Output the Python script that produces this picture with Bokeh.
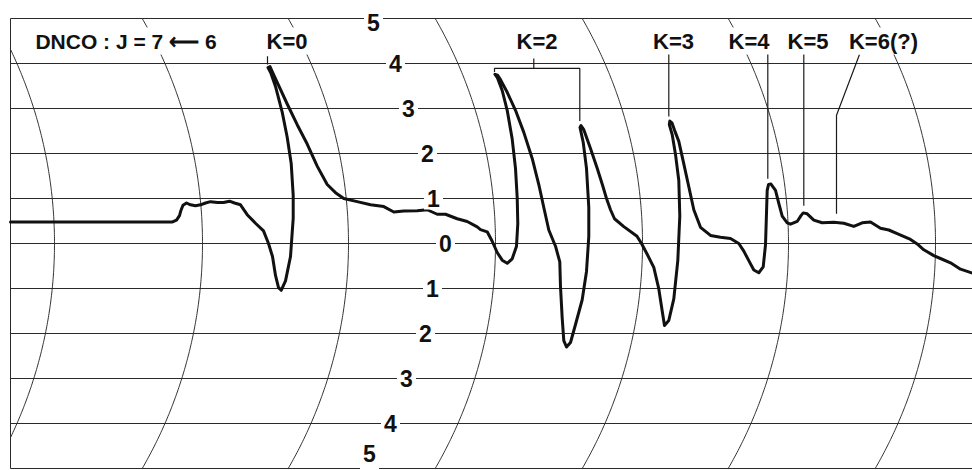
import numpy as np
from bokeh.plotting import figure
from bokeh.models import Range1d
from bokeh.embed import file_html
from bokeh.resources import INLINE
from bokeh.core.properties import value

# ---- data (chart divisions) ----
grid_levels = [5, 4, 3, 2, 1, 0, -1, -2, -3, -4, -5]
tick_labels = ["5", "4", "3", "2", "1", "0", "1", "2", "3", "4", "5"]
tick_label_x = [373, 395, 408, 427, 433, 445, 432, 425, 406, 390, 369]
tick_label_dy = [3.5, 0, 0, 0, 0, 0, 0, 0, 0, 0, -15]   # screen-pixel nudges (style)

arc_x0 = [54, 202, 348, 495, 642, 788, 935]   # recorder time arcs (x at zero line)
ARC_R = 450.0
ARC_K = 45.0

trace_x = [10, 172, 176, 179, 180.5, 182.5, 186, 190, 195, 200, 205, 210, 217, 223, 229, 234,
           240, 246.7, 255, 263, 268, 272, 275, 278, 280.7, 285, 290, 292.7, 292.7, 290.7,
           286.7, 281.7, 275, 270.5, 267.5, 269.5, 273, 278, 286.7, 296.7, 306.7, 316.7,
           326.7, 335, 343.3, 356.7, 370, 383.3, 393.3, 403.3, 416.7, 426.7, 436.7, 445,
           456.7, 466.7, 476.7, 480, 486.7, 491.7, 496.7, 501.7, 506.7, 511.7, 516, 517.3,
           516.7, 515, 511.7, 506.7, 501.7, 497, 494.5, 497, 500, 506.7, 515, 523.3, 531.7,
           538.3, 543.3, 548.3, 555, 559.3, 560, 561.7, 563.3, 566, 570, 575, 581.7, 586,
           588.3, 588.3, 586, 582.7, 579.5, 580.5, 583.3, 590, 596.7, 602, 606, 610, 614,
           623, 636.5, 641, 646.7, 653.3, 658.3, 661.7, 664, 668.3, 673.3, 677.3, 679.3,
           678.3, 675, 671.7, 668.8, 669.3, 671.5, 674, 678.3, 683.3, 688.3, 693.3, 700,
           710, 720, 730, 738.3, 743.3, 748.3, 753.3, 758.3, 762.7, 765, 766, 766.7, 768,
           770.5, 775, 778.3, 781.7, 786.7, 790, 796.7, 800.5, 802.7, 806.7, 813.3, 821.7,
           833.3, 843.3, 853.3, 861.7, 870, 880, 888.3, 896.7, 910, 916.7, 923.3, 933.3,
           941.7, 950, 960, 972]
trace_y = [0.48, 0.48, 0.52, 0.62, 0.74, 0.85, 0.90, 0.86, 0.84, 0.86, 0.90, 0.93, 0.91, 0.91, 0.94, 0.90,
           0.86, 0.64, 0.45, 0.28, 0.0, -0.29, -0.71, -0.98, -1.04, -0.83, -0.29, 0.56, 1.07, 1.78,
           2.36, 2.92, 3.49, 3.78, 3.91, 3.93, 3.76, 3.52, 3.10, 2.64, 2.21, 1.72,
           1.31, 1.13, 1.00, 0.93, 0.86, 0.82, 0.70, 0.72, 0.73, 0.75, 0.65, 0.65,
           0.55, 0.49, 0.37, 0.31, 0.26, 0.05, -0.20, -0.37, -0.44, -0.34, -0.06, 0.44,
           1.02, 1.67, 2.32, 2.96, 3.40, 3.68, 3.76, 3.74, 3.64, 3.36, 2.96, 2.47, 1.89,
           1.31, 0.80, 0.30, -0.06, -0.41, -0.96, -1.66, -2.16, -2.30, -2.20, -1.80, -1.25, -0.62,
           0.16, 0.80, 1.67, 2.25, 2.58, 2.62, 2.53, 2.11, 1.67, 1.30, 1.00, 0.75, 0.55,
           0.38, 0.16, 0.0, -0.24, -0.53, -1.01, -1.50, -1.82, -1.71, -1.23, -0.38, 0.61,
           1.40, 1.98, 2.42, 2.64, 2.72, 2.68, 2.52, 2.27, 1.77, 1.26, 0.75, 0.36,
           0.18, 0.14, 0.11, 0.0, -0.17, -0.38, -0.59, -0.65, -0.52, -0.03, 0.68, 1.18, 1.31,
           1.32, 1.18, 0.89, 0.61, 0.46, 0.43, 0.49, 0.62, 0.68, 0.66, 0.52, 0.46,
           0.47, 0.45, 0.38, 0.46, 0.48, 0.34, 0.30, 0.22, 0.09, -0.01, -0.14, -0.27,
           -0.35, -0.43, -0.57, -0.66]

title_text = ["DNCO : J = 7 \u27f5 6"]
title_x = [125.5]
peak_labels = ["K=0", "K=2", "K=3", "K=4", "K=5", "K=6(?)"]
peak_label_x = [286.5, 536.5, 673, 748.5, 807.5, 883]
label_level = 4.5

marker_xs = [[267, 267], [494, 494, 579.3, 579.3], [533.3, 533.3], [668.3, 668.3],
             [767.3, 767.3], [803.3, 803.3], [859, 836, 836]]
marker_ys = [[4.16, 3.98], [3.81, 3.89, 3.89, 2.72], [4.11, 3.89], [4.27, 2.82],
             [4.23, 1.44], [4.23, 0.84], [4.2, 2.85, 0.66]]

# label backdrop sizes in screen pixels (style)
peak_box_w = [46, 46, 46, 46, 46, 74]
title_box_w = [186]

# ---- figure ----
p = figure(width=972, height=470, x_range=Range1d(0, 972), y_range=Range1d(-5.0444, 5.4),
           x_axis_type=None, y_axis_type=None, toolbar_location=None, output_backend="svg",
           min_border=0)
p.grid.visible = False
p.outline_line_color = None
p.background_fill_color = "white"
p.border_fill_color = "white"

# horizontal chart lines
p.multi_line(xs=[[10, 972] for _ in grid_levels], ys=[[g, g] for g in grid_levels],
             line_color="#2a2a2a", line_width=1)
# left border
p.line([10, 10], [-5, 5], line_color="#2a2a2a", line_width=1)

# recorder arcs
arc_xs, arc_ys = [], []
for x0 in arc_x0:
    v = np.linspace(-5, 5, 201)
    x = x0 - (ARC_R - np.sqrt(ARC_R ** 2 - (v * ARC_K) ** 2))
    m = x >= 10
    arc_xs.append(list(x[m]))
    arc_ys.append(list(v[m]))
p.multi_line(xs=arc_xs, ys=arc_ys, line_color="#333333", line_width=1)

# trace
p.line(trace_x, trace_y, line_color="#111111", line_width=3, line_join="round", line_cap="round")

# marker lines
p.multi_line(xs=marker_xs, ys=marker_ys, line_color="#1a1a1a", line_width=1.2)

# white backdrops behind the lettering (break the chart lines like the original)
p.rect(x=tick_label_x, y=grid_levels, width=19, height=22, width_units="screen",
       height_units="screen", fill_color="white", line_color=None)
p.rect(x=peak_label_x, y=[label_level] * len(peak_labels), width=peak_box_w, height=27,
       width_units="screen", height_units="screen", fill_color="white", line_color=None)
p.rect(x=title_x, y=[label_level], width=title_box_w, height=27,
       width_units="screen", height_units="screen", fill_color="white", line_color=None)

# texts
font = value("Liberation Sans")
p.text(x=tick_label_x, y=grid_levels, text=tick_labels, text_font=font, text_font_size="23px",
       text_font_style="bold", text_align="center", text_baseline="middle",
       y_offset=tick_label_dy, text_color="#111111",
       background_fill_color="white", padding=1)
p.text(x=peak_label_x, y=[label_level] * len(peak_labels), text=peak_labels, text_font=font,
       text_font_size="22px", text_font_style="bold", text_align="center",
       text_baseline="middle", text_color="#111111")
p.text(x=title_x, y=[label_level], text=title_text, text_font=font,
       text_font_size="21px", text_font_style="bold", text_align="center",
       text_baseline="middle", text_color="#111111")

open("out.html", "w").write(file_html(p, INLINE))
